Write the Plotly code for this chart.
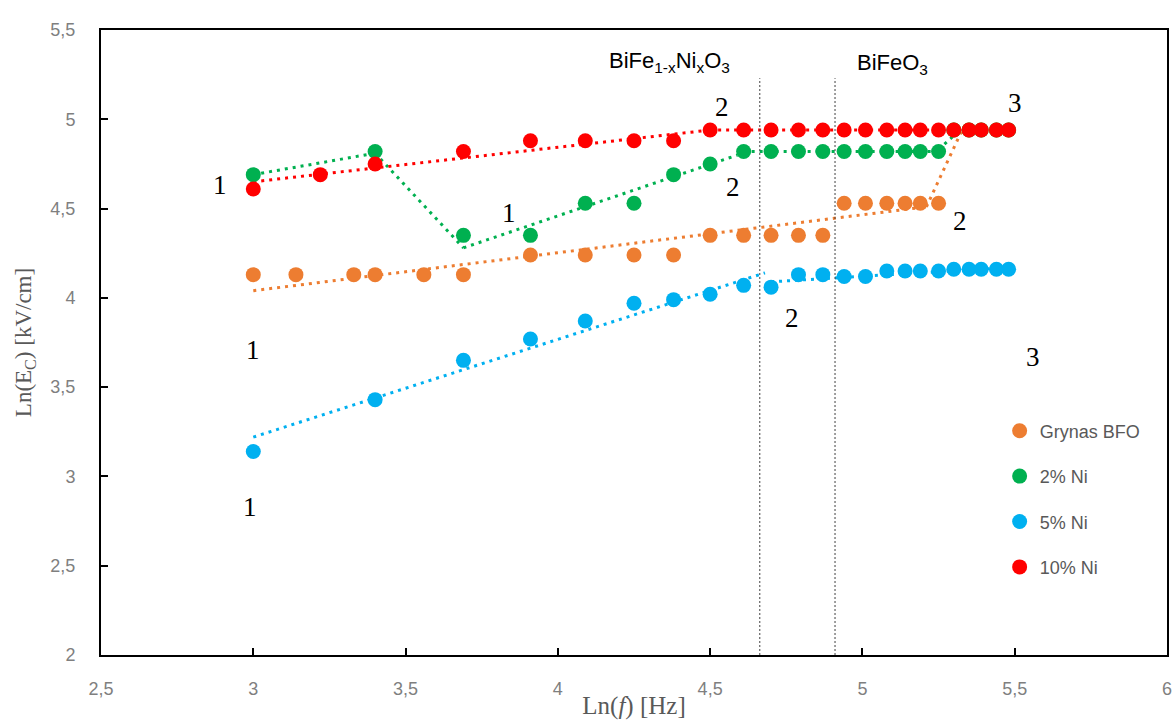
import plotly.graph_objects as go

# ---------------- data ----------------
orange_x = [3.00, 3.14, 3.33, 3.40, 3.56, 3.69, 3.91, 4.09, 4.25, 4.38, 4.50, 4.61, 4.70,
            4.79, 4.87, 4.94, 5.01, 5.08, 5.14, 5.19, 5.25, 5.30, 5.35, 5.39, 5.44, 5.48]
orange_y = [4.13, 4.13, 4.13, 4.13, 4.13, 4.13, 4.24, 4.24, 4.24, 4.24, 4.35, 4.35, 4.35,
            4.35, 4.35, 4.53, 4.53, 4.53, 4.53, 4.53, 4.53, 4.94, 4.94, 4.94, 4.94, 4.94]

green_x = [3.00, 3.40, 3.69, 3.91, 4.09, 4.25, 4.38, 4.50, 4.61, 4.70, 4.79, 4.87,
           4.94, 5.01, 5.08, 5.14, 5.19, 5.25, 5.30, 5.35, 5.39, 5.44, 5.48]
green_y = [4.69, 4.82, 4.35, 4.35, 4.53, 4.53, 4.69, 4.75, 4.82, 4.82, 4.82, 4.82,
           4.82, 4.82, 4.82, 4.82, 4.82, 4.82, 4.94, 4.94, 4.94, 4.94, 4.94]

blue_x = [3.00, 3.40, 3.69, 3.91, 4.09, 4.25, 4.38, 4.50, 4.61, 4.70, 4.79, 4.87,
          4.94, 5.01, 5.08, 5.14, 5.19, 5.25, 5.30, 5.35, 5.39, 5.44, 5.48]
blue_y = [3.14, 3.43, 3.65, 3.77, 3.87, 3.97, 3.99, 4.02, 4.07, 4.06, 4.13, 4.13,
          4.12, 4.12, 4.15, 4.15, 4.15, 4.15, 4.16, 4.16, 4.16, 4.16, 4.16]

red_x = [3.00, 3.22, 3.40, 3.69, 3.91, 4.09, 4.25, 4.38, 4.50, 4.61, 4.70, 4.79,
         4.87, 4.94, 5.01, 5.08, 5.14, 5.19, 5.25, 5.30, 5.35, 5.39, 5.44, 5.48]
red_y = [4.61, 4.69, 4.75, 4.82, 4.88, 4.88, 4.88, 4.88, 4.94, 4.94, 4.94, 4.94,
         4.94, 4.94, 4.94, 4.94, 4.94, 4.94, 4.94, 4.94, 4.94, 4.94, 4.94, 4.94]

# trend line segments: (x0, y0, x1, y1)
orange_trend = [(3.00, 4.04, 5.21, 4.51), (5.21, 4.51, 5.33, 4.95)]
green_trend = [(3.00, 4.69, 3.40, 4.81), (3.40, 4.81, 3.69, 4.28), (3.69, 4.28, 4.59, 4.80),
               (4.61, 4.82, 5.25, 4.82), (5.25, 4.83, 5.32, 4.94)]
blue_trend = [(3.00, 3.22, 4.68, 4.14), (4.70, 4.09, 5.48, 4.17)]
red_trend = [(3.00, 4.65, 4.50, 4.94), (4.50, 4.94, 5.48, 4.94)]

boundary_x = [4.663, 4.91]
boundary_top = 5.23

series_names = ["Grynas BFO", "2% Ni", "5% Ni", "10% Ni"]
series_colors = ["#ED7D31", "#00B050", "#00B0F0", "#FF0000"]

region_labels = ["1", "2", "3", "1", "2", "2", "1", "2", "3", "1"]
region_x = [2.89, 4.54, 5.50, 3.84, 4.575, 5.32, 3.00, 4.77, 5.56, 2.99]
region_y = [4.63, 5.07, 5.09, 4.475, 4.62, 4.43, 3.71, 3.89, 3.67, 2.83]

# ---------------- figure ----------------
fig = go.Figure()

trends = [orange_trend, green_trend, blue_trend, red_trend]
for segs, col in zip(trends, series_colors):
    for (x0, y0, x1, y1) in segs:
        fig.add_trace(go.Scatter(x=[x0, x1], y=[y0, y1], mode="lines",
                                 line=dict(color=col, width=3, dash="3px,5px"),
                                 showlegend=False, hoverinfo="skip"))

for xb in boundary_x:
    fig.add_trace(go.Scatter(x=[xb, xb], y=[2, boundary_top], mode="lines",
                             line=dict(color="#404040", width=1, dash="2px,2px"),
                             showlegend=False, hoverinfo="skip"))

all_x = [orange_x, green_x, blue_x, red_x]
all_y = [orange_y, green_y, blue_y, red_y]
for i, (xs, ys, name, col) in enumerate(zip(all_x, all_y, series_names, series_colors)):
    fig.add_trace(go.Scatter(x=xs, y=ys, mode="markers", name=name,
                             legendgroup=name,
                             marker=dict(color=col, size=15, line=dict(width=0))))

for t, x, y in zip(region_labels, region_x, region_y):
    fig.add_annotation(x=x, y=y, text=t, showarrow=False,
                       font=dict(family="Liberation Serif", size=27, color="black"))

fig.add_annotation(x=4.366, y=5.32, text="BiFe<sub>1-x</sub>Ni<sub>x</sub>O<sub>3</sub>",
                   showarrow=False, font=dict(family="Liberation Sans", size=22, color="black"))
fig.add_annotation(x=5.10, y=5.31, text="BiFeO<sub>3</sub>",
                   showarrow=False, font=dict(family="Liberation Sans", size=22, color="black"))

axis_common = dict(showline=True, linecolor="black", linewidth=2, mirror=True,
                   showgrid=False, zeroline=False, ticks="inside", ticklen=7,
                   tickcolor="black", tickwidth=1.5, automargin=False,
                   tickfont=dict(family="Liberation Sans", size=18, color="#7f7f7f"))

fig.update_layout(
    width=1173, height=720,
    margin=dict(l=101, r=6, t=30, b=65),
    plot_bgcolor="white", paper_bgcolor="white",
    separators=", ",
    xaxis=dict(range=[2.5, 6], dtick=0.5, tick0=2.5, ticklabelstandoff=16,
               title=dict(text="Ln(<i>f</i>) [Hz]", standoff=2,
                          font=dict(family="Liberation Serif", size=25, color="#595959")),
               **axis_common),
    yaxis=dict(range=[2, 5.5], dtick=0.5, tick0=2, ticklabelstandoff=20,
               title=dict(text="Ln(E<sub>C</sub>) [kV/cm]", standoff=12,
                          font=dict(family="Liberation Serif", size=23, color="#595959")),
               **axis_common),
    legend=dict(x=0.843, y=0.388, xanchor="left", yanchor="top",
                bgcolor="rgba(0,0,0,0)", tracegroupgap=19,
                font=dict(family="Liberation Sans", size=18, color="#595959"),
                itemwidth=30),
    showlegend=True,
)

fig.write_html("out.html")
